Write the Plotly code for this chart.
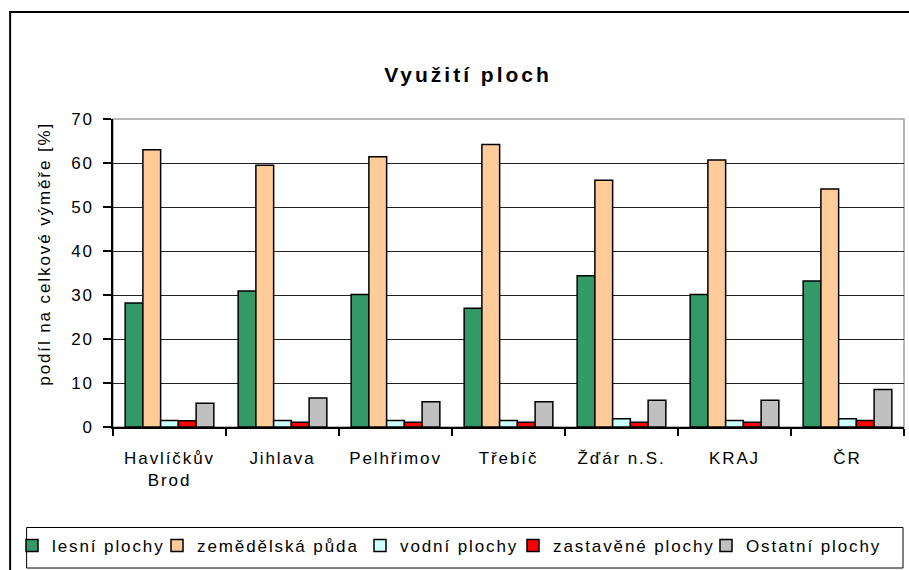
import plotly.graph_objects as go

categories = ["Havlíčkův<br>Brod", "Jihlava", "Pelhřimov", "Třebíč", "Žďár n.S.", "KRAJ", "ČR"]
lesni = [28.2, 30.9, 30.1, 27.0, 34.4, 30.1, 33.2]
zemedelska = [63.0, 59.5, 61.4, 64.2, 56.1, 60.7, 54.1]
vodni = [1.5, 1.5, 1.5, 1.5, 1.9, 1.5, 1.9]
zastavene = [1.4, 1.1, 1.1, 1.1, 1.1, 1.1, 1.5]
ostatni = [5.4, 6.6, 5.75, 5.75, 6.1, 6.1, 8.5]
series_names = ["lesní plochy", "zemědělská půda", "vodní plochy", "zastavěné plochy", "Ostatní plochy"]
series_values = [lesni, zemedelska, vodni, zastavene, ostatni]
series_colors = ["#339966", "#FFCC99", "#CCFFFF", "#FF0000", "#C0C0C0"]
title_text = "Využití ploch"
y_title = "podíl na celkové výměře [%]"

W, H = 909, 570
L, R, T, B = 113, 905, 119, 427
FONT = "Arial, Liberation Sans, sans-serif"
legend_text_x = [52, 197, 400, 553, 746]
legend_entry_w = [130, 185, 135, 175, 155]


def px(x):
    return (x - L) / (R - L)


def py(y):
    return (B - y) / (B - T)


fig = go.Figure()
legend_layouts = {}
for i, (name, vals, col) in enumerate(zip(series_names, series_values, series_colors)):
    lg = "legend" if i == 0 else f"legend{i + 1}"
    fig.add_trace(go.Bar(
        x=categories, y=vals, name=name, legend=lg,
        marker=dict(color=col, line=dict(color="black", width=1.5)),
    ))
    legend_layouts[lg] = dict(
        orientation="h", x=px(legend_text_x[i] - 40), xanchor="left",
        y=py(546), yanchor="middle",
        font=dict(size=17, family=FONT, color="black"),
        bgcolor="rgba(0,0,0,0)", borderwidth=0, itemwidth=30,
        entrywidth=legend_entry_w[i], entrywidthmode="pixels",
    )

shapes = [
    dict(type="rect", xref="paper", yref="paper", x0=px(10), x1=px(915), y0=py(580), y1=py(12),
         line=dict(color="black", width=2), layer="below"),
    dict(type="rect", xref="paper", yref="paper", x0=0, x1=1, y0=0, y1=1,
         line=dict(color="#A0A0A0", width=1.5), layer="below"),
    dict(type="rect", xref="paper", yref="paper", x0=px(26.5), x1=px(904), y0=py(568), y1=py(527.5),
         line=dict(color="black", width=1), layer="below"),
]

annotations = [
    dict(text=y_title, xref="paper", yref="paper", x=px(44), y=py(254),
         xanchor="center", yanchor="middle", textangle=-90, showarrow=False,
         font=dict(size=17, family=FONT, color="black")),
]

fig.update_layout(
    width=W, height=H,
    margin=dict(l=L, r=W - R, t=T, b=H - B),
    paper_bgcolor="white", plot_bgcolor="white",
    font=dict(family=FONT, size=17, color="black"),
    title=dict(text="<b>" + title_text + "</b>", font=dict(size=21, family=FONT, color="black"),
               x=468 / W, xref="container", xanchor="center",
               y=1 - 75 / H, yref="container", yanchor="middle"),
    barmode="group", bargap=0.215, bargroupgap=0,
    showlegend=True,
    shapes=shapes,
    annotations=annotations,
    **legend_layouts,
)
fig.update_xaxes(
    showline=True, linecolor="black", linewidth=1.5,
    ticks="outside", tickson="boundaries", ticklen=7, tickcolor="black", tickwidth=1.5,
    showgrid=False, tickfont=dict(size=17, family=FONT), ticklabelstandoff=15,
    automargin=False,
)
fig.update_yaxes(
    range=[0, 70], dtick=10, tick0=0,
    showline=True, linecolor="black", linewidth=1.5,
    ticks="outside", ticklen=8, tickcolor="black", tickwidth=1.5,
    showgrid=True, gridcolor="#222222", gridwidth=1,
    zeroline=False,
    tickfont=dict(size=17, family=FONT), ticklabelstandoff=6,
    automargin=False,
)

post = """
document.body.style.margin = '0';
var st = document.createElement('style');
st.textContent = 'svg text{letter-spacing:1.9px} svg .gtitle{letter-spacing:3px}';
document.head.appendChild(st);
"""

fig.write_html("out.html", config={"displayModeBar": False}, post_script=post)
